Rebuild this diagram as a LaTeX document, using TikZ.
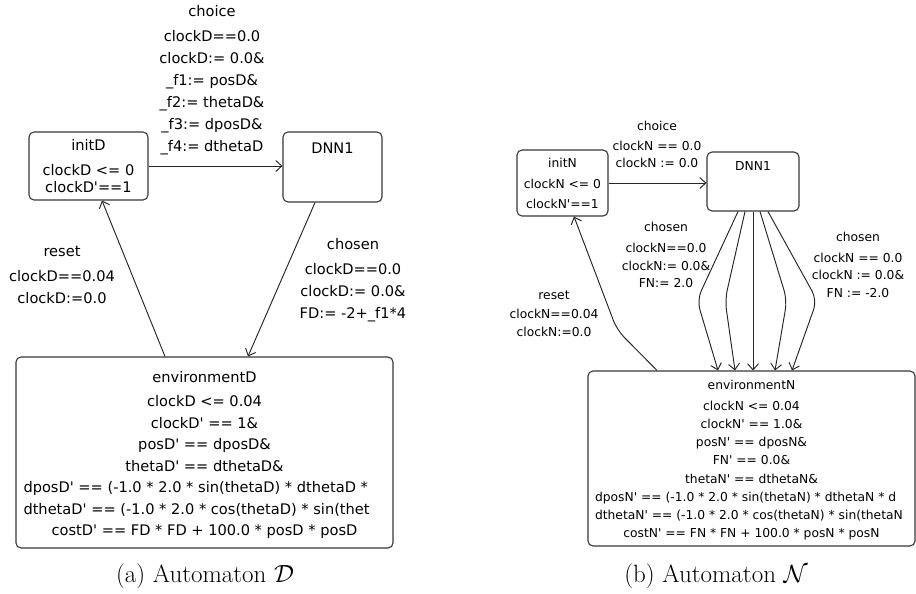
\documentclass[tikz,border=0pt]{standalone}
\usepackage{fontspec}
\usepackage{amsmath}
\usepackage{tikz}
\usetikzlibrary{positioning,calc,arrows.meta}
\newfontfamily\dejavu{DejaVu Sans}
\newcommand{\prm}{\textquotesingle}

\tikzset{
  loc/.style={draw=black!78, line width=1.1pt, rounded corners=5pt, fill=white},
  trans/.style={draw=black!85, line width=0.95pt, -{Straight Barb[length=6pt,width=11pt]}},
  txtD/.style={font=\dejavu\fontsize{14.6}{22}\selectfont, align=center, inner sep=0pt},
  txtN/.style={font=\dejavu\fontsize{12.3}{17.5}\selectfont, align=center, inner sep=0pt},
  captext/.style={font=\fontsize{25}{29}\selectfont, inner sep=0pt}
}

\begin{document}
\begin{tikzpicture}[x=1pt, y=-1pt]
    \useasboundingbox (0,0) rectangle (916,594);

    % automaton D: locations
    \node[loc, txtD, minimum width=119, minimum height=68] (initD) at (88.5,166)
      {initD\\[3pt]clockD <= 0\\[-5pt]clockD\prm==1};
    \node[loc, minimum width=99, minimum height=70,
      label={[txtD, name=dnnDtitle, anchor=north, yshift=-11.5pt]north:DNN1}] (dnnD) at (332.5,167) {};
    \node[loc, minimum width=377, minimum height=191] (envD) at (204.5,452.5) {};
    \begin{scope}
      \clip[rounded corners=5pt] (envD.south west) rectangle (envD.north east);
      \node[txtD, font=\dejavu\fontsize{14.6}{21.5}\selectfont] (envDtxt) at (204.5,455)
        {environmentD\\[3pt]clockD <= 0.04\\clockD\prm{} == 1\&\\posD\prm{} == dposD\&\\thetaD\prm{} == dthetaD\&\\
         \makebox[362pt][l]{dposD\prm{} == (-1.0 * 2.0 * sin(thetaD) * dthetaD *}\\
         \makebox[362pt][l]{dthetaD\prm{} == (-1.0 * 2.0 * cos(thetaD) * sin(thet}\\
         costD\prm{} == FD * FD + 100.0 * posD * posD};
    \end{scope}

    % automaton D: transitions
    \draw[trans] (initD.east) -- (initD.east -| dnnD.west);
    \draw[trans] ([xshift=-17.5pt]dnnD.south) -- ([xshift=43.5pt]envD.north);
    \draw[trans] ([xshift=-39.5pt]envD.north) -- ([xshift=13.5pt]initD.south);

    % automaton D: labels
    \node[txtD] (choiceD) at (212,80) {choice\\[3pt]clockD==0.0\\clockD:= 0.0\&\\\_f1:= posD\&\\\_f2:= thetaD\&\\\_f3:= dposD\&\\\_f4:= dthetaD};
    \node[txtD] (chosenD) at (353,280) {chosen\\[3pt]clockD==0.0\\clockD:= 0.0\&\\FD:= -2+\_f1*4};
    \node[txtD] (resetD) at (62,275) {reset\\[3pt]clockD==0.04\\clockD:=0.0};

    % automaton N: locations
    \node[loc, txtN, minimum width=91, minimum height=66] (initN) at (562.5,183)
      {initN\\[4pt]clockN <= 0\\[2pt]clockN\prm==1};
    \node[loc, minimum width=92, minimum height=59,
      label={[txtN, name=dnnNtitle, anchor=north, yshift=-9.5pt]north:DNN1}] (dnnN) at (753,181.5) {};
    \node[loc, minimum width=327, minimum height=175] (envN) at (751.5,458.5) {};
    \begin{scope}
      \clip[rounded corners=5pt] (envN.south west) rectangle (envN.north east);
      \node[txtN, font=\dejavu\fontsize{12.3}{18.2}\selectfont] (envNtxt) at (751.5,460)
        {environmentN\\[3pt]clockN <= 0.04\\clockN\prm{} == 1.0\&\\posN\prm{} == dposN\&\\FN\prm{} == 0.0\&\\thetaN\prm{} == dthetaN\&\\
         \makebox[313pt][l]{dposN\prm{} == (-1.0 * 2.0 * sin(thetaN) * dthetaN * d}\\
         \makebox[313pt][l]{dthetaN\prm{} == (-1.0 * 2.0 * cos(thetaN) * sin(thetaN}\\
         costN\prm{} == FN * FN + 100.0 * posN * posN};
    \end{scope}

    % automaton N: transitions
    \draw[trans] (initN.east) -- (initN.east -| dnnN.west);
    \foreach \s/\bx/\e in {-15/697/-33.5, -8/725/-16.5, 7/787/23.5, 15/817/40.5}
      \draw[trans, rounded corners=10pt] ([xshift=\s pt]dnnN.south) -- (\bx,300) -- ([xshift=\e pt]envN.north);
    \draw[trans] (dnnN.south) -- (dnnN.south |- envN.north);
    \draw[trans, rounded corners=10pt] ([xshift=-94.5pt]envN.north) -- (617,330) -- ([xshift=11.5pt]initN.south);

    % automaton N: labels
    \node[txtN] (choiceN) at (657,144) {choice\\[3pt]clockN == 0.0\\[-1pt]clockN := 0.0};
    \node[txtN] (chosenN) at (666,255) {chosen\\[4pt]clockN==0.0\\clockN:= 0.0\&\\FN:= 2.0};
    \node[txtN] (chosenNb) at (858,265) {chosen\\[3pt]clockN == 0.0\\clockN := 0.0\&\\FN := -2.0};
    \node[txtN] (resetN) at (554,313.5) {reset\\[2pt]clockN==0.04\\clockN:=0.0};

    % captions
    \node[captext] (capD) at (205,576) {(a) Automaton $\mathcal{D}$};
    \node[captext] (capN) at (716,576) {(b) Automaton $\mathcal{N}$};
\end{tikzpicture}
\end{document}
